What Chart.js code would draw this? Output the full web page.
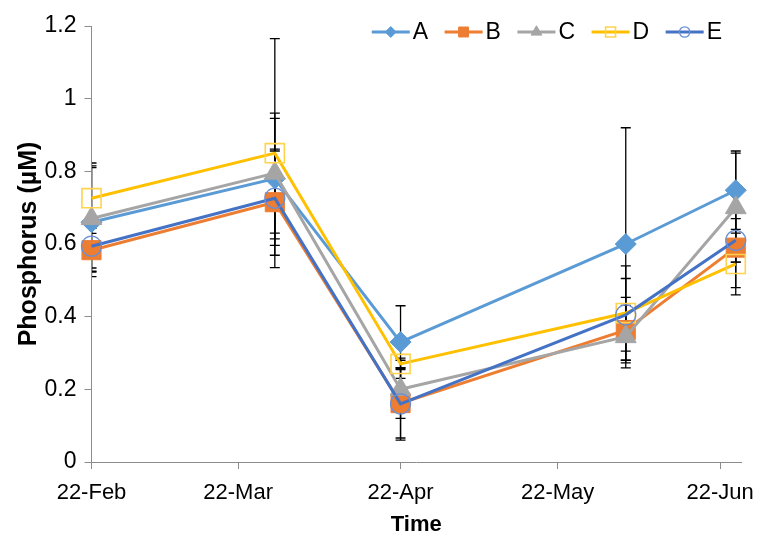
<!DOCTYPE html>
<html>
<head>
<meta charset="utf-8">
<script src="https://cdn.jsdelivr.net/npm/chart.js@4.4.1/dist/chart.umd.min.js"></script>
<style>
  html, body { margin: 0; padding: 0; background: #ffffff; }
  #wrap { width: 757px; height: 540px; }
</style>
</head>
<body>
<div id="wrap"><canvas id="c" width="757" height="540"></canvas></div>
<script>
// ---- data ----
const sampleDates = ['2013-02-22', '2013-03-29', '2013-04-22', '2013-06-04', '2013-06-25'];
const seriesNames = ['A', 'B', 'C', 'D', 'E'];
const valuesA = [0.66, 0.78, 0.33, 0.60, 0.748];
const valuesB = [0.583, 0.715, 0.162, 0.363, 0.59];
const valuesC = [0.67, 0.795, 0.20, 0.345, 0.70];
const valuesD = [0.726, 0.85, 0.27, 0.41, 0.545];
const valuesE = [0.594, 0.726, 0.16, 0.405, 0.61];
const errorsA = [0.15, 0.166, 0.10, 0.32, 0.108];
const errorsB = [0.06, 0.146, 0.096, 0.09, 0.11];
const errorsC = [0.145, 0.165, 0.08, 0.086, 0.15];
const errorsD = [0.097, 0.315, 0.016, 0.13, 0.085];
const errorsE = [0.06, 0.13, 0.10, 0.10, 0.06];
const tickDates = ['2013-02-22', '2013-03-22', '2013-04-22', '2013-05-22', '2013-06-22'];
const tickLabels = ['22-Feb', '22-Mar', '22-Apr', '22-May', '22-Jun'];
const axisStartDate = '2013-02-22';
const axisEndDate = '2013-06-26';
const yTickValues = [0, 0.2, 0.4, 0.6, 0.8, 1, 1.2];

// ---- helpers ----
function dayNum(s) {
  const p = s.split('-').map(Number);
  return Math.round((Date.UTC(p[0], p[1] - 1, p[2]) - Date.UTC(2013, 1, 22)) / 86400000);
}
const xDays = sampleDates.map(dayNum);
const tickDays = tickDates.map(dayNum);

const allValues = [valuesA, valuesB, valuesC, valuesD, valuesE];
const allErrors = [errorsA, errorsB, errorsC, errorsD, errorsE];
const styles = [
  { color: '#5B9BD5', pointStyle: 'rectRot', radius: 10.5, bg: '#5B9BD5', bc: '#5B9BD5', bw: 1 },
  { color: '#ED7D31', pointStyle: 'rect', radius: 13.5, bg: '#ED7D31', bc: '#ED7D31', bw: 1 },
  { color: '#A5A5A5', pointStyle: 'triangle', radius: 12, bg: '#A5A5A5', bc: '#A5A5A5', bw: 1 },
  { color: '#FFC000', pointStyle: 'rect', radius: 13.5, bg: 'rgba(0,0,0,0)', bc: '#FFD34D', bw: 1.6 },
  { color: '#4472C4', pointStyle: 'circle', radius: 10, bg: 'rgba(0,0,0,0)', bc: '#6A8FD6', bw: 1.3 }
];

const datasets = seriesNames.map((name, i) => ({
  label: name,
  data: allValues[i].map((v, k) => ({ x: xDays[k], y: v })),
  borderColor: styles[i].color,
  backgroundColor: styles[i].color,
  borderWidth: 3,
  tension: 0,
  pointStyle: styles[i].pointStyle,
  pointRadius: styles[i].radius,
  pointHoverRadius: styles[i].radius,
  pointBackgroundColor: styles[i].bg,
  pointBorderColor: styles[i].bc,
  pointBorderWidth: styles[i].bw,
  errors: allErrors[i],
  order: seriesNames.length - i,
  clip: false
}));

const FONT = "'Liberation Sans', Arial, sans-serif";

// error bars drawn under the series
const errorBarPlugin = {
  id: 'errorBars',
  beforeDatasetsDraw(chart) {
    const ctx = chart.ctx;
    const ys = chart.scales.y;
    const a = chart.chartArea;
    ctx.save();
    ctx.beginPath();
    ctx.rect(a.left + 0.5, a.top - 20, a.right - a.left, a.bottom - a.top + 20);
    ctx.clip();
    ctx.strokeStyle = '#000000';
    ctx.lineWidth = 1.3;
    chart.data.datasets.forEach((ds, di) => {
      const meta = chart.getDatasetMeta(di);
      meta.data.forEach((pt, k) => {
        const v = ds.data[k].y, e = ds.errors[k];
        const x = pt.x;
        const y1 = ys.getPixelForValue(v + e), y2 = ys.getPixelForValue(v - e);
        ctx.beginPath();
        ctx.moveTo(x, y1); ctx.lineTo(x, y2);
        ctx.moveTo(x - 5, y1); ctx.lineTo(x + 5, y1);
        ctx.moveTo(x - 5, y2); ctx.lineTo(x + 5, y2);
        ctx.stroke();
      });
    });
    ctx.restore();
  }
};

function drawMarker(ctx, style, x, y, r, bg, bc, bw) {
  ctx.save();
  ctx.beginPath();
  if (style === 'rectRot') {
    ctx.moveTo(x, y - r); ctx.lineTo(x + r, y); ctx.lineTo(x, y + r); ctx.lineTo(x - r, y); ctx.closePath();
  } else if (style === 'rect') {
    const s = r * Math.SQRT1_2;
    ctx.rect(x - s, y - s, 2 * s, 2 * s);
  } else if (style === 'triangle') {
    for (let j = 0; j < 3; j++) {
      const ang = j * 2 * Math.PI / 3;
      const px = x + Math.sin(ang) * r, py = y - Math.cos(ang) * r;
      if (j === 0) ctx.moveTo(px, py); else ctx.lineTo(px, py);
    }
    ctx.closePath();
  } else {
    ctx.arc(x, y, r, 0, Math.PI * 2);
  }
  ctx.fillStyle = bg; ctx.fill();
  ctx.lineWidth = bw; ctx.strokeStyle = bc; ctx.stroke();
  ctx.restore();
}

// legend inside the plot, top right
const legendPlugin = {
  id: 'innerLegend',
  afterDraw(chart) {
    const ctx = chart.ctx;
    const a = chart.chartArea;
    ctx.save();
    ctx.font = '23px ' + FONT;
    ctx.textBaseline = 'middle';
    const sample = 38, gap = 3, spacing = 16.5;
    const widths = chart.data.datasets.map(ds => sample + gap + ctx.measureText(ds.label).width);
    const total = widths.reduce((s, w) => s + w, 0) + spacing * (widths.length - 1);
    let x = a.right - 19 - total;
    const y = a.top + 6;
    chart.data.datasets.forEach((ds, i) => {
      ctx.beginPath();
      ctx.strokeStyle = ds.borderColor;
      ctx.lineWidth = 3;
      ctx.moveTo(x, y); ctx.lineTo(x + sample, y);
      ctx.stroke();
      drawMarker(ctx, ds.pointStyle, x + sample / 2, y, ds.pointRadius * 0.52,
        ds.pointBackgroundColor, ds.pointBorderColor, ds.pointBorderWidth);
      ctx.fillStyle = '#000000';
      ctx.fillText(ds.label, x + sample + gap, y + 1);
      x += widths[i] + spacing;
    });
    ctx.restore();
  }
};

new Chart(document.getElementById('c'), {
  type: 'line',
  data: { datasets },
  plugins: [errorBarPlugin, legendPlugin],
  options: {
    responsive: false,
    animation: false,
    events: [],
    layout: { padding: { left: 14, right: 16, top: 26, bottom: 2 } },
    plugins: { legend: { display: false }, tooltip: { enabled: false } },
    scales: {
      x: {
        type: 'linear',
        min: 0,
        max: dayNum(axisEndDate) - dayNum(axisStartDate),
        afterBuildTicks(scale) { scale.ticks = tickDays.map(v => ({ value: v })); },
        afterFit(scale) { scale.height = 76; scale.paddingLeft = 0; scale.paddingRight = 0; },
        ticks: {
          autoSkip: false, maxRotation: 0, minRotation: 0,
          color: '#000000', padding: 11,
          font: { family: FONT, size: 22 },
          callback(v) { const k = tickDays.indexOf(v); return k >= 0 ? tickLabels[k] : ''; }
        },
        grid: { display: true, drawOnChartArea: false, drawTicks: true, tickLength: 7, color: '#8C8C8C', lineWidth: 1 },
        border: { display: true, color: '#8C8C8C', width: 1 },
        title: { display: true, text: 'Time', color: '#000000', font: { family: FONT, size: 22, weight: 'bold' }, padding: { top: 0, bottom: 0 } }
      },
      y: {
        type: 'linear',
        min: 0,
        max: 1.2,
        afterBuildTicks(scale) { scale.ticks = yTickValues.map(v => ({ value: v })); },
        afterFit(scale) { scale.width = 77.5; scale.paddingTop = 0; scale.paddingBottom = 0; },
        ticks: {
          color: '#000000', padding: 8,
          font: { family: FONT, size: 23 },
          callback(v) { return String(Number(v.toFixed(1))); }
        },
        grid: { display: true, drawOnChartArea: false, drawTicks: true, tickLength: 7, color: '#8C8C8C', lineWidth: 1 },
        border: { display: true, color: '#8C8C8C', width: 1 },
        title: { display: true, text: 'Phosphorus (µM)', color: '#000000', font: { family: FONT, size: 25, weight: 'bold' }, padding: { top: 0, bottom: 0 } }
      }
    }
  }
});
</script>
</body>
</html>
